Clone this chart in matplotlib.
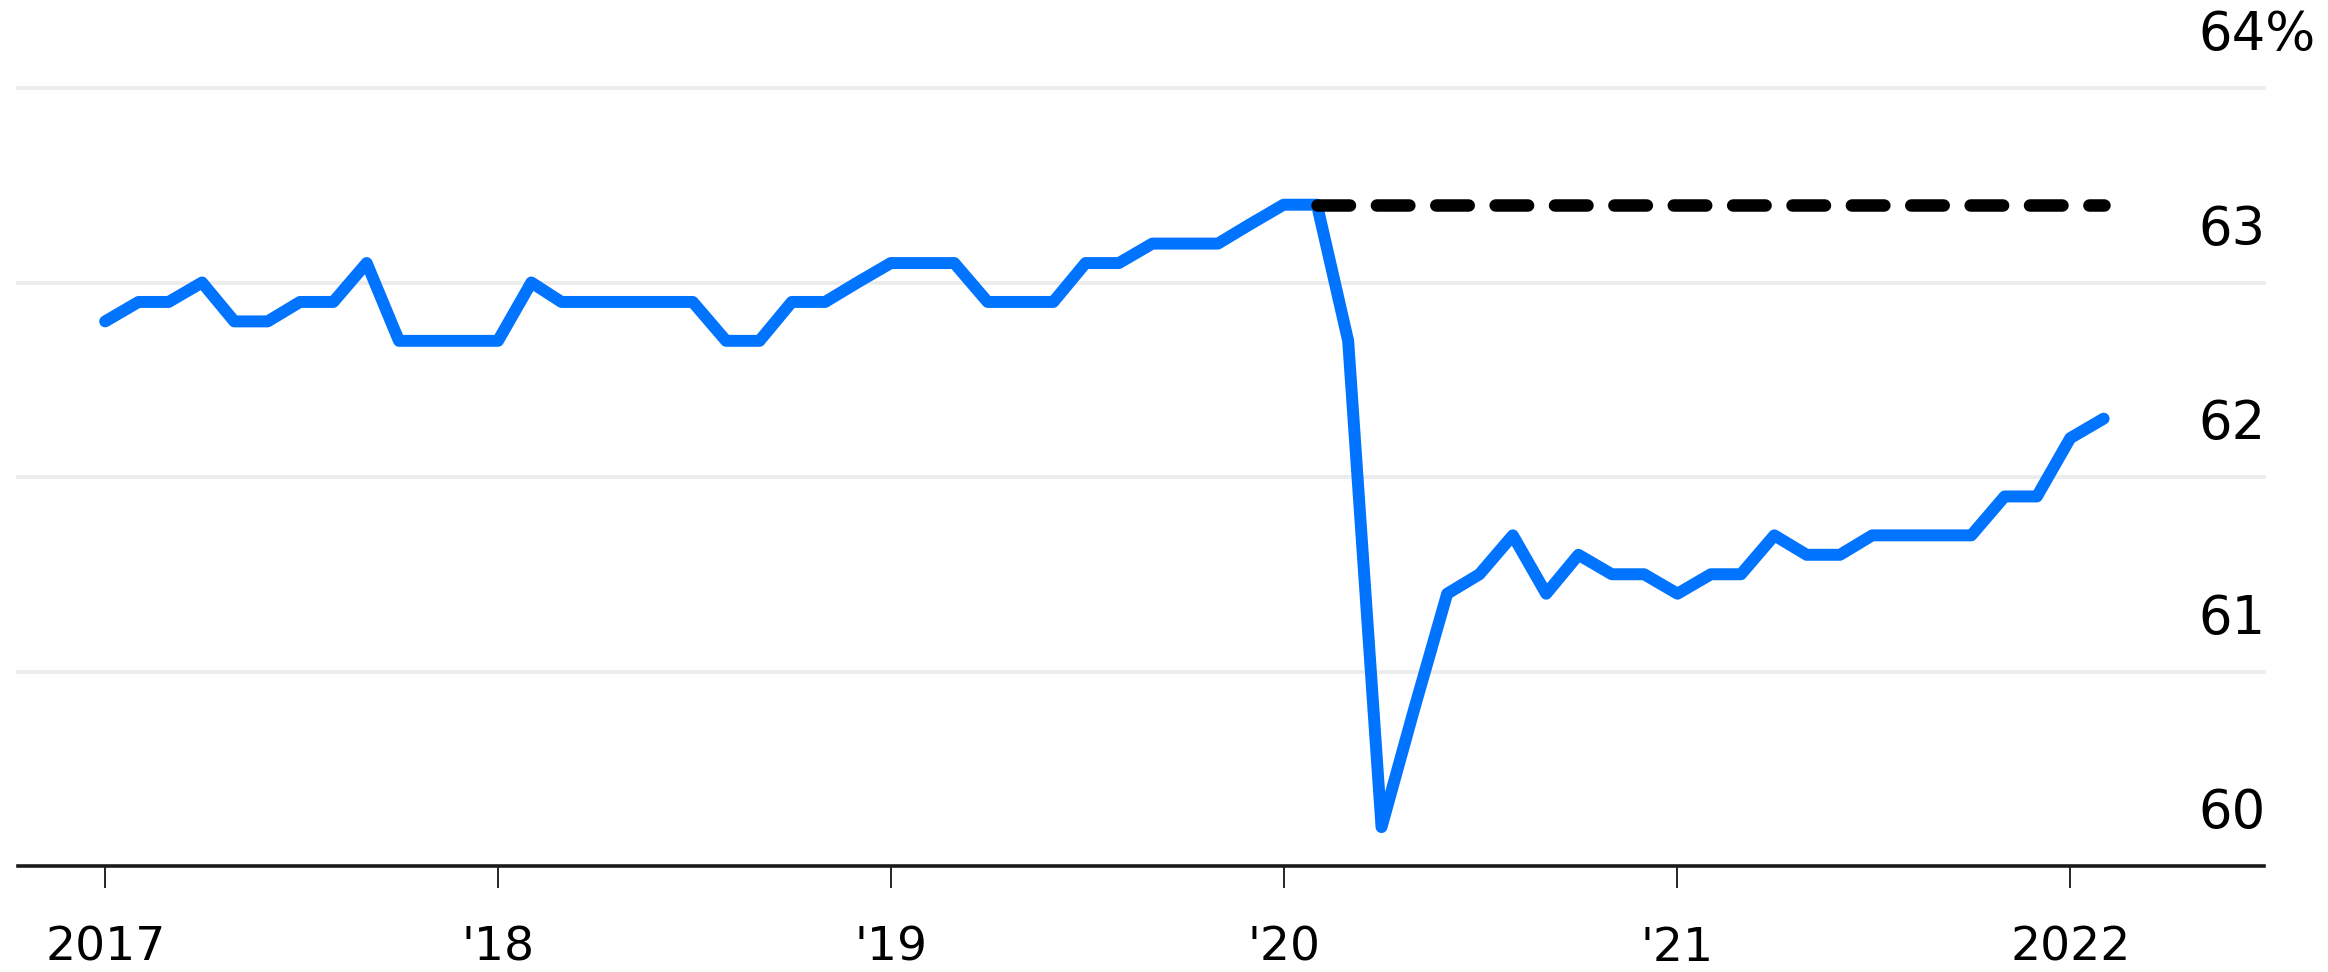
import matplotlib
matplotlib.use("Agg")
import matplotlib.pyplot as plt
import matplotlib.transforms as mtransforms
import pandas as pd

# ---- data (labor force participation rate, %) ----
start_month = "2017-01-01"
lfpr = [
    62.8, 62.9, 62.9, 63.0, 62.8, 62.8, 62.9, 62.9, 63.1, 62.7, 62.7, 62.7,  # 2017
    62.7, 63.0, 62.9, 62.9, 62.9, 62.9, 62.9, 62.7, 62.7, 62.9, 62.9, 63.0,  # 2018
    63.1, 63.1, 63.1, 62.9, 62.9, 62.9, 63.1, 63.1, 63.2, 63.2, 63.2, 63.3,  # 2019
    63.4, 63.4, 62.7, 60.2, 60.8, 61.4, 61.5, 61.7, 61.4, 61.6, 61.5, 61.5,  # 2020
    61.4, 61.5, 61.5, 61.7, 61.6, 61.6, 61.7, 61.7, 61.7, 61.7, 61.9, 61.9,  # 2021
    62.2, 62.3,                                                              # 2022
]
pre_pandemic_level = 63.4
pre_pandemic_start = "2020-02-01"
pre_pandemic_end = "2022-02-01"

x_tick_dates = ["2017-01-01", "2018-01-01", "2019-01-01", "2020-01-01", "2021-01-01", "2022-01-01"]
x_tick_labels = ["2017", "'18", "'19", "'20", "'21", "2022"]
y_ticks = [60, 61, 62, 63, 64]
y_tick_labels = ["60", "61", "62", "63", "64%"]

dates = pd.date_range(start_month, periods=len(lfpr), freq="MS")

# ---- figure ----
W, H = 2328, 972
plt.rcParams["font.family"] = ["DejaVu Sans"]
fig = plt.figure(figsize=(W / 100, H / 100), dpi=100)

left_px, right_px = 18, 2264
top_px, bottom_px = 88, 866
ax = fig.add_axes([left_px / W, 1 - bottom_px / H,
                   (right_px - left_px) / W, (bottom_px - top_px) / H])

blue = "#0073ff"

ax.set_ylim(60, 64)
ax.set_xlim(pd.Timestamp("2016-10-12"), pd.Timestamp("2022-06-30"))

# gridlines
for v in y_ticks[1:]:
    ax.axhline(v, color="#ececec", lw=2.8, zorder=1, clip_on=False)

# main line
ax.plot(dates, lfpr, color=blue, lw=8.6, solid_joinstyle="round",
        solid_capstyle="round", zorder=3)

# pre-pandemic level dashed line
ax.plot([pd.Timestamp(pre_pandemic_start), pd.Timestamp(pre_pandemic_end)],
        [pre_pandemic_level, pre_pandemic_level], color="black", lw=9.0,
        dashes=(2.6, 2.15), dash_capstyle="round", zorder=4)

# spines
for s in ["top", "right", "left"]:
    ax.spines[s].set_visible(False)
ax.spines["bottom"].set_linewidth(2.6)
ax.spines["bottom"].set_color("#1a1a1a")

# x ticks
ax.set_xticks([pd.Timestamp(d) for d in x_tick_dates])
ax.set_xticklabels(x_tick_labels)
ax.tick_params(axis="x", length=16, width=1.2, color="black", pad=27,
               labelsize=34, labelcolor="black")
ax.set_yticks([])

# y labels on the right, above gridlines
trans = mtransforms.blended_transform_factory(fig.transFigure, ax.transData)
for v, lab in zip(y_ticks, y_tick_labels):
    ax.text(2198 / W, v + 0.27, lab, transform=trans, ha="left", va="center",
            fontsize=38, color="black", clip_on=False)

fig.savefig("out.png", dpi=100, facecolor="white")
